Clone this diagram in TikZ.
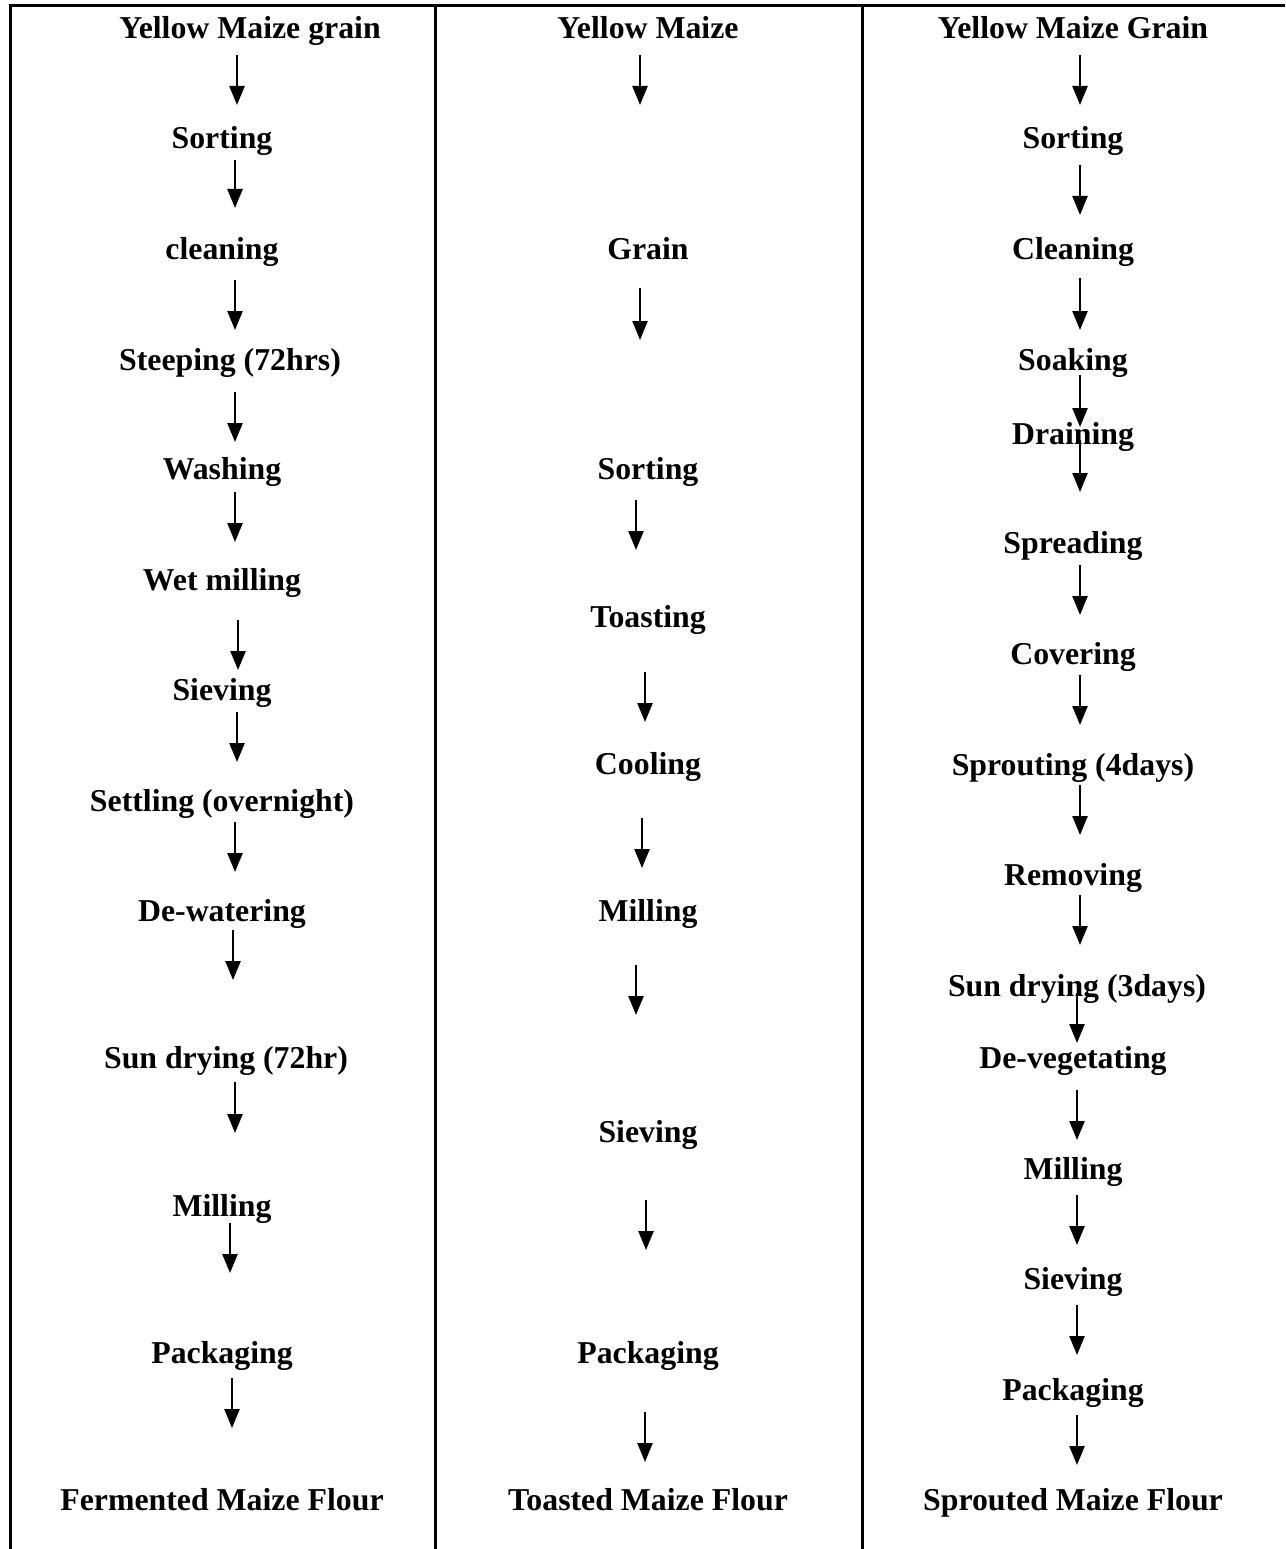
\documentclass[tikz,border=0pt]{standalone}
\usepackage{fontspec}
\setmainfont{Liberation Serif}
\usepackage{tikz}
\usetikzlibrary{arrows.meta}

\begin{document}
\begin{tikzpicture}[
    x=1pt,y=-1pt,
    proc/.style={font=\fontsize{31.8}{36}\selectfont\bfseries,inner sep=0pt,anchor=base,yshift=-10.4pt},
    flow/.style={line width=2.5pt,-{Triangle[width=15pt,length=19pt]}},
    rule/.style={line width=3pt}
    ]
    \useasboundingbox (0,0) rectangle (1285,1549);
    % table lines
    \draw[rule] (8.5,6) -- (1285,6);
    \draw[rule] (10,6) -- (10,1549);
    \draw[rule] (435,6) -- (435,1549);
    \draw[rule] (862,6) -- (862,1549);
    % fermented
    \node[proc] (fa) at (250,28) {Yellow Maize grain};
    \node[proc] (fb) at (222,138) {Sorting};
    \node[proc] (fc) at (222,249) {cleaning};
    \node[proc] (fd) at (230,360) {Steeping (72hrs)};
    \node[proc] (fe) at (222,469) {Washing};
    \node[proc] (ff) at (222,580) {Wet milling};
    \node[proc] (fg) at (222,690) {Sieving};
    \node[proc] (fh) at (222,801) {Settling (overnight)};
    \node[proc] (fi) at (222,911) {De-watering};
    \node[proc] (fj) at (226,1058) {Sun drying (72hr)};
    \node[proc] (fk) at (222,1206) {Milling};
    \node[proc] (fl) at (222,1353) {Packaging};
    \node[proc] (fm) at (222,1500) {Fermented Maize Flour};
    % toasted
    \node[proc] (ta) at (648,28) {Yellow Maize};
    \node[proc] (tb) at (648,249) {Grain};
    \node[proc] (tc) at (648,469) {Sorting};
    \node[proc] (td) at (648,617) {Toasting};
    \node[proc] (te) at (648,764) {Cooling};
    \node[proc] (tf) at (648,911) {Milling};
    \node[proc] (tg) at (648,1132) {Sieving};
    \node[proc] (th) at (648,1353) {Packaging};
    \node[proc] (ti) at (648,1500) {Toasted Maize Flour};
    % sprouted
    \node[proc] (sa) at (1073,28) {Yellow Maize Grain};
    \node[proc] (sb) at (1073,138) {Sorting};
    \node[proc] (sc) at (1073,249) {Cleaning};
    \node[proc] (sd) at (1073,360) {Soaking};
    \node[proc] (se) at (1073,434) {Draining};
    \node[proc] (sf) at (1073,543) {Spreading};
    \node[proc] (sg) at (1073,654) {Covering};
    \node[proc] (sh) at (1073,765) {Sprouting (4days)};
    \node[proc] (si) at (1073,875) {Removing};
    \node[proc] (sj) at (1077,986) {Sun drying (3days)};
    \node[proc] (sk) at (1073,1058) {De-vegetating};
    \node[proc] (sl) at (1073,1169) {Milling};
    \node[proc] (sm) at (1073,1279) {Sieving};
    \node[proc] (sn) at (1073,1390) {Packaging};
    \node[proc] (so) at (1073,1500) {Sprouted Maize Flour};
    % arrows
    \foreach \n/\x/\ya/\yb in {
        f1/237/55/105, f2/235/160/208, f3/235/280/330, f4/235/392/442,
        f5/235/492/542, f6/238/620/670, f7/237/712/762, f8/235/822/872,
        f9/233/930/980, f10/235/1082/1133, f11/230/1223/1273, f12/232/1378/1428,
        t1/640/55/105, t2/640/288/340, t3/636/500/550, t4/645/672/722,
        t5/642/818/868, t6/636/965/1015, t7/646/1200/1250, t8/645/1412/1462,
        s1/1080/55/105, s2/1080/165/215, s3/1080/278/330, s4/1080/375/427,
        s5/1080/440/492, s6/1080/565/615, s7/1080/675/725, s8/1080/785/835,
        s9/1080/895/945, s10/1077/993/1043, s11/1077/1090/1140,
        s12/1077/1195/1245, s13/1077/1305/1355, s14/1077/1415/1465}
    {
      \coordinate (\n a) at (\x,\ya);
      \coordinate (\n b) at (\x,\yb);
      \draw[flow] (\n a) -- (\n b);
    }
  \end{tikzpicture}
\end{document}
